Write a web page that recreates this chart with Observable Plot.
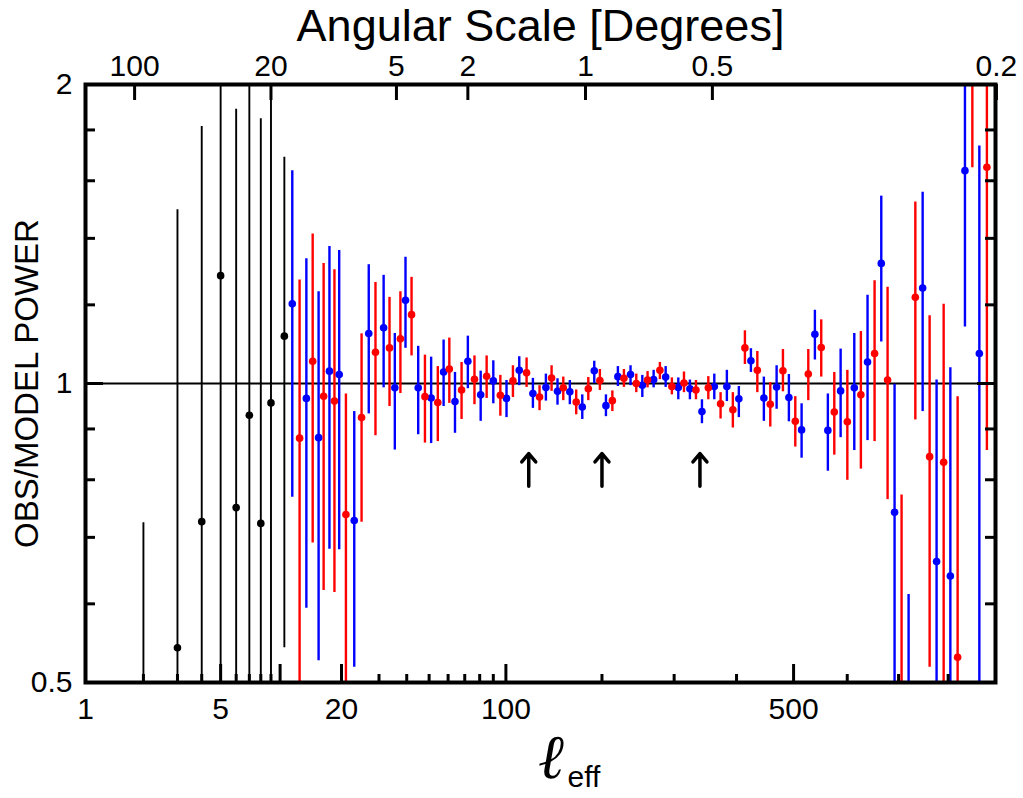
<!DOCTYPE html>
<html><head><meta charset="utf-8">
<script src="https://cdn.jsdelivr.net/npm/d3@7"></script>
<script src="https://cdn.jsdelivr.net/npm/@observablehq/plot@0.6"></script>
<style>body{margin:0;background:#fff} svg{display:block}</style>
</head><body><div id="chart"></div>
<script>
// ---- data ----
const blackEll = [2,3,4,5,6,7,8,9,10.5];
const blackVal = [0.35,0.542,0.726,1.284,0.750,0.929,0.723,0.956,1.116];
const blackLo  = [0.2,0.3,0.3,0.3,0.3,0.3,0.3,0.3,0.542];
const blackHi  = [0.724,1.496,1.814,3,1.889,3,1.847,3,1.69];

const blueEll = [11.5,13.5,15.5,17.5,19.5,23,26.9,31.5,35.4,39.5,44.9,51,57.5,64,72,80.7,90,100.5,111.4,123.9,136.6,148.6,162,176.2,190.5,205,220.4,237.3,253.6,269.7,287.3,306.3,324.2,343.2,363.1,383.8,403.9,424.5,447,469.5,491.5,514.6,539.1,563.3,587.4,613.5,639.1,665.9,692.1,720,748.2,776.4,804.5,834.5,864.3];
const blueVal = [1.203,0.966,0.882,1.029,1.021,0.728,1.123,1.138,0.990,1.213,0.990,0.967,1.027,0.959,1.053,0.974,1.006,0.966,1.031,0.977,0.991,0.982,0.981,0.947,1.030,0.950,1.016,1.021,0.996,1.009,1.015,0.991,0.988,0.937,0.993,0.993,0.965,1.054,0.967,0.992,0.968,0.898,1.121,0.897,0.983,0.990,1.051,1.321,0.742,0.42,1.248,0.662,0.640,1.638,1.072];
const blueLo  = [0.768,0.594,0.526,0.681,0.680,0.518,0.932,0.990,0.857,1.085,0.888,0.870,0.948,0.891,0.988,0.916,0.954,0.924,0.995,0.944,0.960,0.951,0.952,0.920,1.000,0.926,0.993,0.995,0.968,0.990,0.991,0.963,0.963,0.911,0.963,0.959,0.924,1.026,0.916,0.942,0.915,0.841,1.056,0.816,0.882,0.856,0.876,1.101,0.3,0.3,0.937,0.3,0.3,1.140,0.3];
const blueHi  = [1.638,1.335,1.237,1.374,1.361,0.937,1.317,1.285,1.123,1.340,1.090,1.063,1.106,1.026,1.116,1.029,1.054,1.007,1.064,1.012,1.022,1.011,1.007,0.974,1.053,0.974,1.040,1.042,1.019,1.031,1.040,1.013,1.008,0.963,1.022,1.031,0.993,1.084,1.015,1.042,1.021,0.954,1.185,0.976,1.083,1.123,1.227,1.544,0.998,0.613,1.558,1.008,1.037,3.0,1.734];

const redEll = [12.5,14.5,16.4,18.5,21,24.9,28.9,33.5,37.5,42,48,54.4,60.7,68,76.4,85,95.5,105.9,118,130.3,142.4,154.8,169.2,183.3,197.4,213.2,228.4,245.2,261,278.8,296.6,315,333.7,353.4,373.4,393.8,414.2,435.6,458.3,480.8,503.1,526.9,550.9,575.4,600.2,626.2,652.8,678.3,706,733.5,762.3,790.8,819.4,849.8,880];
const redVal = [0.881,1.053,0.971,0.960,0.738,0.924,1.075,1.086,1.109,1.173,0.970,0.957,1.034,0.985,1.010,1.017,0.973,1.006,1.025,0.969,1.013,0.990,0.958,0.988,1.007,0.961,1.012,1.000,1.008,1.031,0.993,1.001,0.985,0.990,0.954,0.941,1.086,1.031,0.953,1.030,0.916,1.022,1.087,0.936,0.915,0.974,1.072,1.008,0.49,1.221,0.844,0.833,0.530,2.4,1.651];
const redLo  = [0.3,0.691,0.619,0.616,0.3,0.725,0.886,0.948,0.977,1.066,0.871,0.874,0.955,0.920,0.952,0.966,0.927,0.968,0.991,0.939,0.982,0.961,0.930,0.961,0.984,0.937,0.991,0.979,0.990,1.009,0.974,0.979,0.963,0.963,0.921,0.902,1.045,0.979,0.904,0.981,0.863,0.961,1.015,0.847,0.799,0.820,0.874,0.764,0.3,0.919,0.518,0.3,0.3,1.649,0.856];
const redHi  = [1.271,1.414,1.321,1.302,0.976,1.122,1.264,1.221,1.237,1.279,1.068,1.040,1.111,1.050,1.066,1.066,1.019,1.042,1.061,0.995,1.042,1.015,0.985,1.014,1.033,0.983,1.033,1.022,1.028,1.050,1.013,1.027,1.007,1.016,0.979,0.979,1.130,1.077,1.002,1.082,0.970,1.082,1.159,1.026,1.031,1.128,1.269,1.250,0.772,1.523,1.170,1.202,0.970,3.5,3.0];

const arrowEll = [120, 200, 340];
const arrowFrom = 0.788, arrowTo = 0.85;

const bottomLabels = [1, 5, 20, 100, 500];
const bottomMajor = [5, 10, 20, 100, 500];
const bottomMinor = [2,3,4,6,7,8,9,30,40,50,60,70,80,90,200,300,400,600,700,800];
const topLabels = ["100","20","5","2","1","0.5","0.2"];
const topEll = [1.8, 9, 36, 72, 180, 360, 900];
const yLabels = [0.5, 1, 2];
const yMinor = [0.6,0.7,0.8,0.9,1.2,1.4,1.6,1.8];
const yMajor = [1];

// ---- x axis mapping: logarithmic at low ell, stretching at high ell ----
const U = l => Math.log(l) + (l - 1) / 215.5;
const rows = (ell, val, lo, hi) => ell.map((l, i) => ({u: U(l), v: val[i], lo: lo[i], hi: hi[i]}));
const black = rows(blackEll, blackVal, blackLo, blackHi);
const blue = rows(blueEll, blueVal, blueLo, blueHi);
const red = rows(redEll, redVal, redLo, redHi);

const W = 1023, H = 798, mL = 85, mR = 28, mT = 84, mB = 116;
const fw = W - mL - mR, fh = H - mT - mB;
const FONT = "Liberation Sans, Arial, Helvetica, sans-serif";

const chart = Plot.plot({
  width: W, height: H,
  marginLeft: mL, marginRight: mR, marginTop: mT, marginBottom: mB,
  style: {fontFamily: FONT, background: "#fff", color: "#000"},
  x: {type: "linear", domain: [U(1), U(898)], axis: null},
  y: {type: "log", domain: [0.5, 2], axis: null},
  marks: [
    Plot.ruleY([1], {stroke: "#000", strokeWidth: 2}),
    Plot.ruleX(black, {x: "u", y1: "lo", y2: "hi", stroke: "#000", strokeWidth: 1.9, clip: true}),
    Plot.ruleX(blue, {x: "u", y1: "lo", y2: "hi", stroke: "#0000ff", strokeWidth: 2.4, clip: true}),
    Plot.ruleX(red, {x: "u", y1: "lo", y2: "hi", stroke: "#ff0000", strokeWidth: 2.4, clip: true}),
    Plot.dot(black, {x: "u", y: "v", r: 3.8, fill: "#000", clip: true}),
    Plot.dot(blue, {x: "u", y: "v", r: 3.8, fill: "#0000ff", clip: true}),
    Plot.dot(red, {x: "u", y: "v", r: 3.8, fill: "#ff0000", clip: true}),
    Plot.arrow(arrowEll, {x1: d => U(d), x2: d => U(d), y1: arrowFrom, y2: arrowTo, stroke: "#000", strokeWidth: 3.5, headLength: 11, headAngle: 80}),
    // inward ticks
    Plot.tickX(bottomMinor, {x: d => U(d), insetTop: fh - 8, stroke: "#000", strokeWidth: 3}),
    Plot.tickX(bottomMajor, {x: d => U(d), insetTop: fh - 18, stroke: "#000", strokeWidth: 3}),
    Plot.tickX(topEll, {x: d => U(d), insetBottom: fh - 16, stroke: "#000", strokeWidth: 3}),
    Plot.tickY(yMinor, {y: d => d, insetRight: fw - 10, stroke: "#000", strokeWidth: 3}),
    Plot.tickY(yMinor, {y: d => d, insetLeft: fw - 10, stroke: "#000", strokeWidth: 3}),
    Plot.tickY(yMajor, {y: d => d, insetRight: fw - 18, stroke: "#000", strokeWidth: 3}),
    Plot.tickY(yMajor, {y: d => d, insetLeft: fw - 18, stroke: "#000", strokeWidth: 3}),
    Plot.frame({stroke: "#000", strokeWidth: 4}),
    // tick labels
    Plot.text(bottomLabels, {x: d => U(d), text: d => String(d), frameAnchor: "bottom", lineAnchor: "top", dy: 15, fontSize: 30, fill: "#000"}),
    Plot.text(topEll, {x: d => U(d), text: (d, i) => topLabels[i], frameAnchor: "top", lineAnchor: "bottom", dy: -9, fontSize: 30, fill: "#000"}),
    Plot.text(yLabels, {y: d => d, text: d => String(d), frameAnchor: "left", textAnchor: "end", lineAnchor: "middle", dx: -13, fontSize: 30, fill: "#000"}),
    // axis titles
    Plot.text(["Angular Scale [Degrees]"], {frameAnchor: "top", lineAnchor: "bottom", dy: -44, fontSize: 45, fill: "#000"}),
    Plot.text(["OBS/MODEL POWER"], {frameAnchor: "left", textAnchor: "middle", lineAnchor: "middle", rotate: -90, dx: -58, fontSize: 33, fill: "#000"}),
    Plot.text(["ℓ"], {frameAnchor: "bottom", textAnchor: "end", lineAnchor: "bottom", dx: 25, dy: 95, fontSize: 62, fontStyle: "italic", fontWeight: "bold", fontFamily: "DejaVu Serif", fill: "#000"}),
    Plot.text(["eff"], {frameAnchor: "bottom", textAnchor: "start", lineAnchor: "bottom", dx: 27, dy: 104, fontSize: 30, fill: "#000"})
  ]
});
document.getElementById("chart").appendChild(chart);
</script>
</body></html>
